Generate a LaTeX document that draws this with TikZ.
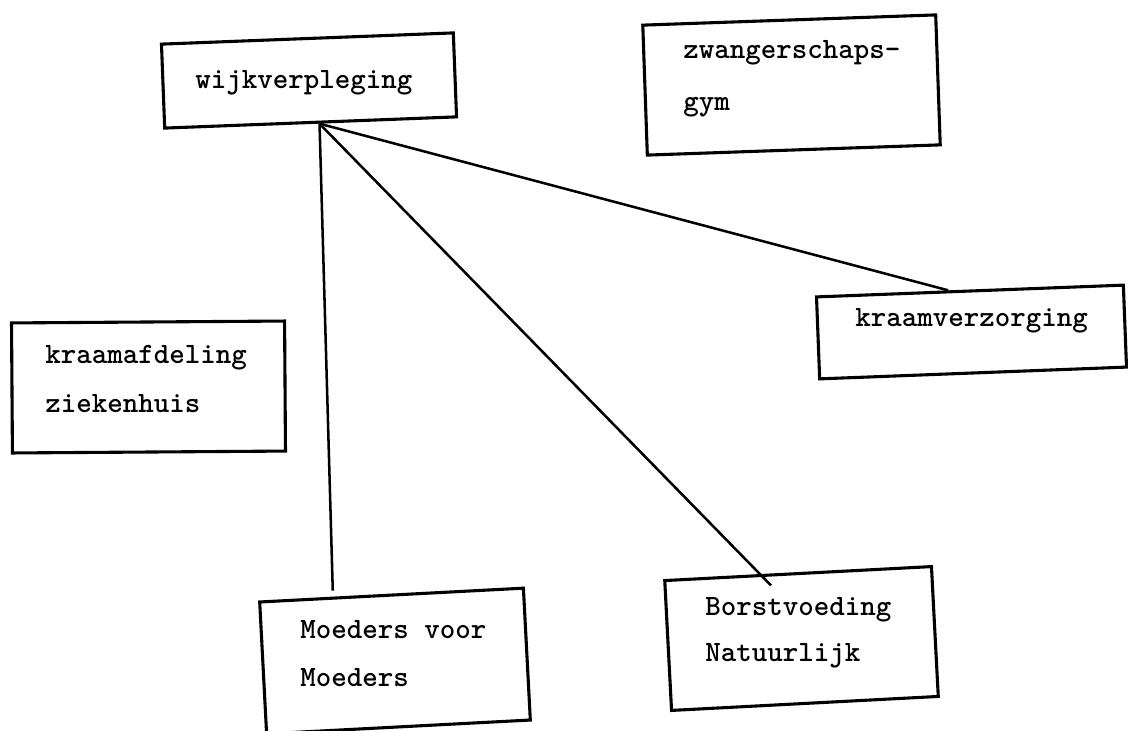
\documentclass[tikz,border=0pt]{standalone}
\usetikzlibrary{calc}

\begin{document}
\begin{tikzpicture}[x=0.025cm,y=-0.025cm,
    box/.style={draw,line width=2.2pt,inner sep=0pt},
    txt/.style={anchor=north west,inner sep=0pt,align=left,
      font=\ttfamily\bfseries\fontsize{21}{35}\selectfont},
    link/.style={line width=1.8pt}]
    \useasboundingbox (0,0) rectangle (1128,730);
    % boxes
    \node[box,minimum width=7.3cm,minimum height=2.1cm,rotate=2.2] (wijk) at (309,80.5) {};
    \node[box,minimum width=7.325cm,minimum height=3.25cm,rotate=2] (zwanger) at (791.5,85) {};
    \node[box,minimum width=7.675cm,minimum height=2.05cm,rotate=2.2] (kraamverz) at (971.5,332) {};
    \node[box,minimum width=6.825cm,minimum height=3.25cm,rotate=0.4] (kraamafd) at (148.5,387) {};
    \node[box,minimum width=6.6cm,minimum height=3.3cm,rotate=3] (moeders) at (395,661) {};
    \node[box,minimum width=6.675cm,minimum height=3.25cm,rotate=3] (borst) at (801.5,638.5) {};
    % typed text
    \node[txt] (wijk_t) at (195,70) {wijkverpleging};
    \node[txt] (zwanger_t) at (683,40) {zwangerschaps-\\[2pt]gym};
    \node[txt] (kraamverz_t) at (855,308) {kraamverzorging};
    \node[txt] (kraamafd_t) at (45,345) {kraamafdeling\\ziekenhuis};
    \node[txt] (moeders_t) at (300,620) {Moeders voor\\[-1pt]Moeders};
    \node[txt] (borst_t) at (705,597) {Borstvoeding\\[-2pt]Natuurlijk};
    % lines from wijkverpleging
    \coordinate (hub) at ($(wijk.south west)!0.53!(wijk.south east)$);
    \path[link]
    (hub) edge ($(moeders.north west)!0.28!(moeders.north east)+(0,-6)$)
    (hub) edge ($(borst.north west)!0.4!(borst.north east)+(0,12)$)
    (hub) edge ($(kraamverz.north west)!0.43!(kraamverz.north east)$);
\end{tikzpicture}
\end{document}
